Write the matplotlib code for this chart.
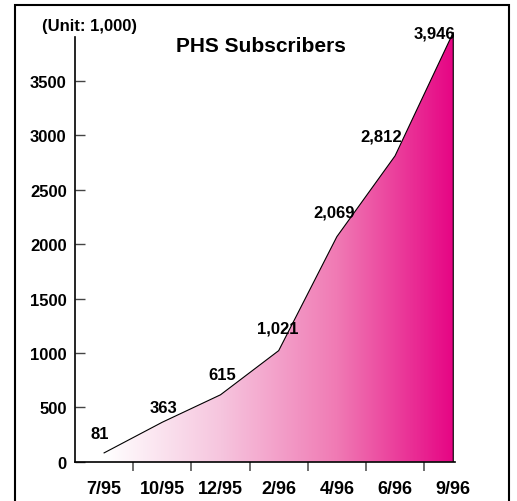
import numpy as np
import matplotlib
matplotlib.use("Agg")
import matplotlib.pyplot as plt
from matplotlib.colors import LinearSegmentedColormap
from matplotlib.patches import Polygon, Rectangle

plt.rcParams['font.family'] = ['Liberation Sans', 'DejaVu Sans']
plt.rcParams['font.weight'] = 'bold'

# data (unit: 1,000 subscribers)
months = ["7/95", "10/95", "12/95", "2/96", "4/96", "6/96", "9/96"]
subscribers = [81, 363, 615, 1021, 2069, 2812, 3946]
value_labels = ["81", "363", "615", "1,021", "2,069", "2,812", "3,946"]
# label offsets in pixels (dx, dy) relative to each point
label_offsets = [(-4, 19), (1, 15), (2, 20), (-1, 23), (-3, 25), (-14, 20), (-19, -1)]

fig = plt.figure(figsize=(5.17, 5.02), dpi=100)
W, H = 517, 502
ax = fig.add_axes([75 / W, (H - 462.7) / H, (455 - 75) / W, (462.7 - 30) / H])

x = np.arange(len(months))
y = np.array(subscribers)

ax.set_xlim(-0.5, 6.03)
ax.set_ylim(0, 3978)

# gradient fill under the curve
verts = [(x[0], 0)] + list(zip(x, y)) + [(x[-1], 0)]
poly = Polygon(verts, closed=True, facecolor='none', edgecolor='none')
ax.add_patch(poly)
cmap = LinearSegmentedColormap.from_list('pk', ['#ffffff', '#f6c5de', '#f07ab4', '#e60584'])
grad = np.linspace(0, 1, 256).reshape(1, -1)
im = ax.imshow(grad, cmap=cmap, aspect='auto', extent=[x[0], x[-1], 0, y.max()],
               origin='lower', zorder=1)
im.set_clip_path(poly)

ax.plot(list(x) + [x[-1]], list(y) + [0], color='black', lw=0.8, zorder=3)

for xi, yi, lab, (dx, dy) in zip(x, y, value_labels, label_offsets):
    ax.annotate(lab, (xi, yi), xytext=(dx, dy), textcoords='offset pixels',
                ha='center', va='center', fontsize=12, fontweight='bold', zorder=4)

# axes styling
ax.spines['top'].set_visible(False)
ax.spines['right'].set_visible(False)
ax.spines['left'].set_bounds(0, 3905)
ax.spines['left'].set_linewidth(1.2)
ax.spines['bottom'].set_linewidth(1.2)

ax.set_yticks(np.arange(0, 3501, 500))
ax.tick_params(axis='y', direction='in', length=7, width=1, color='#444444',
               labelsize=12, pad=6)
ax.set_xticks(x)
ax.set_xticklabels(months)
ax.set_xticks(x[:-1] + 0.5, minor=True)
ax.tick_params(axis='x', which='major', length=0, labelsize=13, pad=13)
ax.tick_params(axis='x', which='minor', direction='out', length=6.5, width=1.2,
               color='#555555')
for t in ax.get_xticklabels() + ax.get_yticklabels():
    t.set_fontweight('bold')

fig.text(261 / W, 1 - 46 / H, "PHS Subscribers", ha='center', va='center',
         fontsize=15, fontweight='bold')
fig.text(90 / W, 1 - 26 / H, "(Unit: 1,000)", ha='center', va='center',
         fontsize=12, fontweight='bold')

# outer frame
fig.patches.append(Rectangle((15 / W, -0.05), (509 - 15) / W, 1.05 - 6 / H,
                             transform=fig.transFigure, fill=False,
                             edgecolor='black', lw=1.5))

fig.savefig("out.png", dpi=100)
